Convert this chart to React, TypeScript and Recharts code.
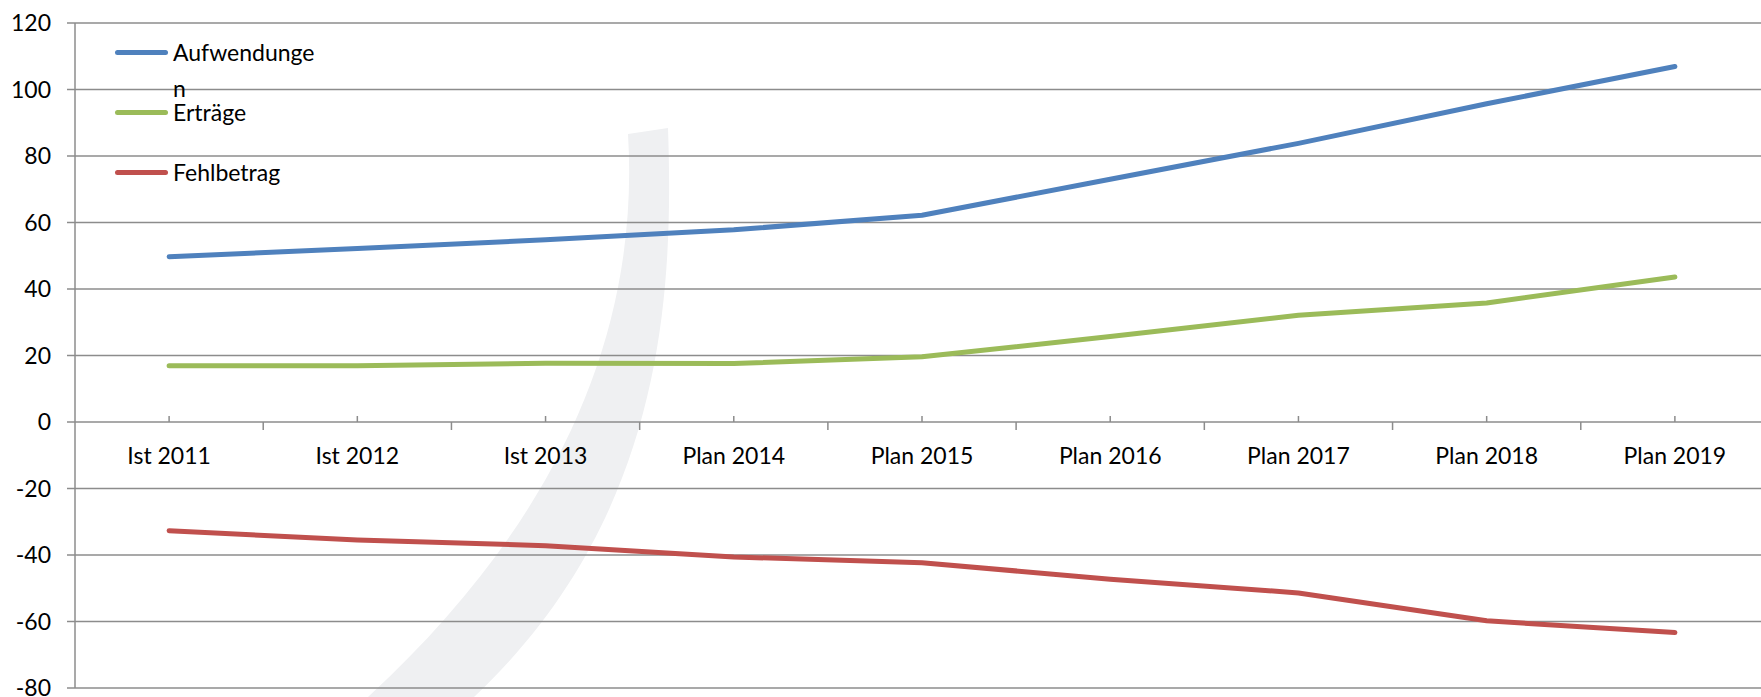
import React from 'react';
import { LineChart, Line, XAxis, YAxis, CartesianGrid } from 'recharts';

// categories and series values
const years = ['Ist 2011', 'Ist 2012', 'Ist 2013', 'Plan 2014', 'Plan 2015', 'Plan 2016', 'Plan 2017', 'Plan 2018', 'Plan 2019'];
const aufwendungen = [49.7, 52.2, 54.8, 57.8, 62.2, 73.0, 83.8, 95.7, 106.9];
const ertraege = [16.9, 16.9, 17.7, 17.6, 19.6, 25.7, 32.1, 35.8, 43.6];
const fehlbetrag = [-32.7, -35.5, -37.2, -40.6, -42.3, -47.3, -51.4, -59.8, -63.3];
const yTicks = [-80, -60, -40, -20, 0, 20, 40, 60, 80, 100, 120];

const data = years.map((year, i) => ({
  year,
  aufwendungen: aufwendungen[i],
  ertraege: ertraege[i],
  fehlbetrag: fehlbetrag[i],
}));

const FONT = 'Lato, "Open Sans", sans-serif';
const GRID = '#8c8c8c';

// chart geometry
const CHART_W = 1770;
const CHART_H = 697;
const MARGIN = { top: 23, right: 1, bottom: 8, left: 0 };
const Y_AXIS_W = 75;
const X_AXIS_H = 1;
const plotH = CHART_H - MARGIN.top - MARGIN.bottom - X_AXIS_H;
const plotW = CHART_W - MARGIN.left - MARGIN.right - Y_AXIS_W;
const halfBand = plotW / years.length / 2;
const yMin = yTicks[0];
const yMax = yTicks[yTicks.length - 1];
const zeroY = MARGIN.top + (plotH * yMax) / (yMax - yMin);

const series = [
  { key: 'aufwendungen', lines: ['Aufwendunge', 'n'], color: '#4F81BD' },
  { key: 'ertraege', lines: ['Erträge'], color: '#9BBB59' },
  { key: 'fehlbetrag', lines: ['Fehlbetrag'], color: '#C0504D' },
];

// category labels sit under the zero line, like the Excel axis crossing at 0
const CategoryTick = ({ x, payload }: any) => (
  <g>
    <line x1={x} x2={x} y1={zeroY - 6} y2={zeroY} stroke={GRID} strokeWidth={1.5} />
    <line x1={x + halfBand} x2={x + halfBand} y1={zeroY} y2={zeroY + 8} stroke={GRID} strokeWidth={1.5} />
    <text x={x} y={zeroY + 36} textAnchor="middle" dominantBaseline="middle" fontSize={23} fontFamily={FONT} fill="#000">
      {payload.value}
    </text>
  </g>
);

// legend drawn as an overlay so it does not shrink the plot area
const ChartLegend = () => (
  <div style={{ position: 'absolute', left: 115, top: 34, fontFamily: FONT, fontSize: 23, color: '#000' }}>
    {series.map((s) => (
      <div key={s.key} style={{ height: 60, display: 'flex', alignItems: 'flex-start' }}>
        <div style={{ height: 36, display: 'flex', alignItems: 'center' }}>
          <div style={{ width: 53, height: 5, borderRadius: 3, background: s.color, marginRight: 5 }} />
        </div>
        <div style={{ lineHeight: '36px' }}>
          {s.lines.map((t, i) => (
            <div key={i}>{t}</div>
          ))}
        </div>
      </div>
    ))}
  </div>
);

export default function App() {
  return (
    <div style={{ position: 'fixed', left: 0, top: 0, width: 1761, height: 697, overflow: 'hidden', background: '#fff' }}>
      {/* faint grey watermark swoosh behind the plot */}
      <svg width={1761} height={697} style={{ position: 'absolute', left: 0, top: 0 }}>
        <path d="M 628 134 L 668 128 C 674 300, 662 520, 474 697 L 368 697 C 560 520, 640 330, 628 134 Z" fill="#eff0f2" />
      </svg>
      <div style={{ position: 'absolute', left: 0, top: 0 }}>
        <LineChart width={CHART_W} height={CHART_H} data={data} margin={MARGIN}>
          <CartesianGrid vertical={false} stroke={GRID} strokeWidth={1.5} />
          <XAxis
            dataKey="year"
            height={X_AXIS_H}
            axisLine={false}
            tickLine={false}
            interval={0}
            padding={{ left: halfBand, right: halfBand }}
            tick={<CategoryTick />}
          />
          <YAxis
            width={Y_AXIS_W}
            domain={[yMin, yMax]}
            ticks={yTicks}
            interval={0}
            axisLine={{ stroke: GRID, strokeWidth: 1.5 }}
            tickLine={{ stroke: GRID, strokeWidth: 1.5 }}
            tickSize={8}
            tickMargin={16}
            tick={{ fontSize: 23, fontFamily: FONT, fill: '#000' }}
          />
          {series.map((s) => (
            <Line
              key={s.key}
              type="linear"
              dataKey={s.key}
              stroke={s.color}
              strokeWidth={5}
              strokeLinecap="round"
              strokeLinejoin="round"
              dot={false}
              activeDot={false}
              isAnimationActive={false}
            />
          ))}
        </LineChart>
      </div>
      <ChartLegend />
    </div>
  );
}
